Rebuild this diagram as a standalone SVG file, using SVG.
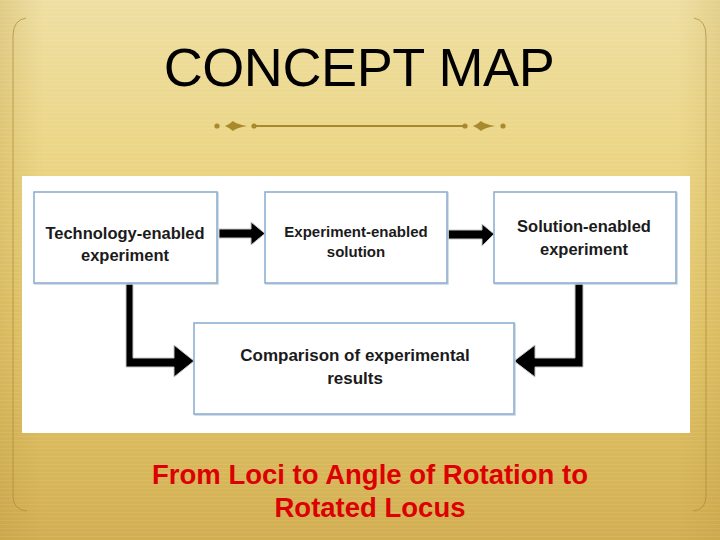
<svg xmlns="http://www.w3.org/2000/svg" width="720" height="540" viewBox="0 0 720 540">
  <defs>
    <linearGradient id="bg" x1="0" y1="0" x2="0" y2="1">
      <stop offset="0" stop-color="#eedfa2"/>
      <stop offset="0.3" stop-color="#ebd584"/>
      <stop offset="0.65" stop-color="#e2c568"/>
      <stop offset="1" stop-color="#d2ae52"/>
    </linearGradient>
    <linearGradient id="side" x1="0" y1="0" x2="1" y2="0">
      <stop offset="0" stop-color="#b8923a" stop-opacity="0.25"/>
      <stop offset="0.06" stop-color="#b8923a" stop-opacity="0"/>
      <stop offset="0.94" stop-color="#b8923a" stop-opacity="0"/>
      <stop offset="1" stop-color="#b8923a" stop-opacity="0.2"/>
    </linearGradient>
    <pattern id="lines" width="8" height="4" patternUnits="userSpaceOnUse">
      <rect width="8" height="1" fill="#ffffff" opacity="0.08"/>
    </pattern>
  </defs>
  <style>
    .box { fill: #ffffff; stroke: #8fb0d2; stroke-width: 1.6; }
    .shadow { fill: none; stroke: #c9d3dd; stroke-width: 1.5; }
    .lbl { font-family: "Liberation Sans", Arial, sans-serif; font-weight: bold; fill: #1b1b1b; text-anchor: middle; }
    .arrow { fill: #000000; stroke: #c6c6c6; stroke-width: 1; stroke-linejoin: miter; }
    .orn { fill: #a88a2c; }
    .frame { fill: none; stroke: #a8893a; stroke-width: 1; opacity: 0.7; }
  </style>

  <!-- background -->
  <rect x="0" y="0" width="720" height="540" fill="url(#bg)"/>
  <rect x="0" y="0" width="720" height="540" fill="url(#side)"/>
  <rect x="0" y="0" width="720" height="540" fill="url(#lines)"/>

  <!-- frame lines -->
  <path class="frame" d="M26,18 Q13,20 13,36 L13,496 Q13,510 27,511"/>
  <path class="frame" d="M694,18 Q706,20 706,36 L706,496 Q706,510 693,511"/>

  <!-- title -->
  <text x="359" y="86" font-family="'Liberation Sans', Arial, sans-serif" font-size="54" text-anchor="middle" fill="#000000" letter-spacing="-0.4">CONCEPT MAP</text>

  <!-- divider ornament -->
  <g id="divider">
    <circle class="orn" cx="217" cy="126" r="2.6"/>
    <path class="orn" d="M225,126 Q230,124 233,121 Q236,124 247,126 Q236,128 233,131 Q230,128 225,126 Z"/>
    <circle class="orn" cx="254" cy="126" r="2.6"/>
    <rect class="orn" x="254" y="125" width="211" height="2"/>
    <circle class="orn" cx="465" cy="126" r="2.6"/>
    <path class="orn" d="M473,126 Q478,124 481,121 Q484,124 495,126 Q484,128 481,131 Q478,128 473,126 Z"/>
    <circle class="orn" cx="503" cy="126" r="2.6"/>
  </g>

  <!-- white panel -->
  <rect x="22" y="176" width="668" height="257" fill="#ffffff"/>

  <!-- connectors -->
  <g id="connectors">
    <polygon class="arrow" points="219,229 251,229 251,222 265,233.5 251,245 251,238 219,238"/>
    <polygon class="arrow" points="448,230 482,230 482,224 494,234 482,246 482,239 448,239"/>
    <polygon class="arrow" points="126,283 133,283 133,358 174,358 174,345 194,361 174,377 174,367 126,367"/>
    <polygon class="arrow" points="583,283 575,283 575,358 535,358 535,345 514,361 535,377 535,367 583,367"/>
  </g>

  <!-- nodes -->
  <g id="node-tech">
    <rect class="shadow" x="35" y="193" width="183" height="91"/>
    <rect class="box" x="34" y="192" width="183" height="91"/>
    <text class="lbl" x="125" y="239" font-size="16.5">Technology-enabled</text>
    <text class="lbl" x="125" y="261" font-size="16.5">experiment</text>
  </g>
  <g id="node-expsol">
    <rect class="shadow" x="266" y="193" width="182" height="91"/>
    <rect class="box" x="265" y="192" width="182" height="91"/>
    <text class="lbl" x="356" y="237" font-size="15">Experiment-enabled</text>
    <text class="lbl" x="356" y="257" font-size="15">solution</text>
  </g>
  <g id="node-solexp">
    <rect class="shadow" x="495" y="193" width="182" height="91"/>
    <rect class="box" x="494" y="192" width="182" height="91"/>
    <text class="lbl" x="584" y="232" font-size="16.5">Solution-enabled</text>
    <text class="lbl" x="584" y="255" font-size="16.5">experiment</text>
  </g>
  <g id="node-compare">
    <rect class="shadow" x="195" y="324" width="320" height="91"/>
    <rect class="box" x="194" y="323" width="320" height="91"/>
    <text class="lbl" x="355" y="361" font-size="17">Comparison of experimental</text>
    <text class="lbl" x="355" y="384" font-size="17">results</text>
  </g>

  <!-- caption -->
  <text x="370" y="484" font-family="'Liberation Sans', Arial, sans-serif" font-weight="bold" font-size="27.5" text-anchor="middle" fill="#dc0000">From Loci to Angle of Rotation to</text>
  <text x="370" y="517" font-family="'Liberation Sans', Arial, sans-serif" font-weight="bold" font-size="27.5" text-anchor="middle" fill="#dc0000">Rotated Locus</text>
</svg>
